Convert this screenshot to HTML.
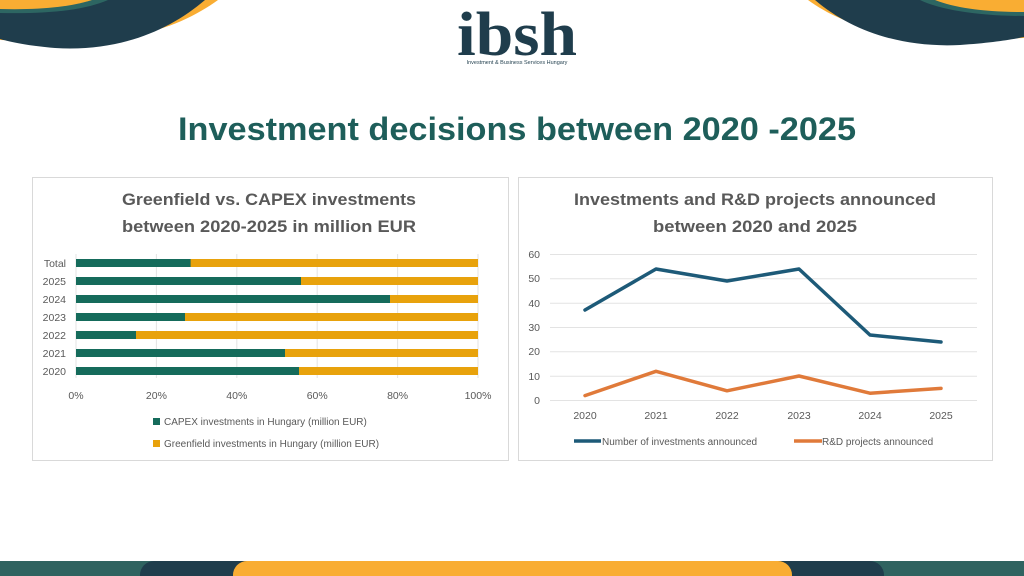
<!DOCTYPE html>
<html><head><meta charset="utf-8"><style>
html,body{margin:0;padding:0;background:#fff;}
svg{display:block;font-family:"Liberation Sans",sans-serif;}
</style></head><body>
<svg width="1024" height="576" viewBox="0 0 1024 576" xmlns="http://www.w3.org/2000/svg">
<path d="M0,0 L218,0 C190,20 150,40 70,42 L0,40 Z" fill="#f9ad33"/>
<path d="M0,0 L205,0 C170,30 120,52 55,48 C30,46 10,42 0,39 Z" fill="#1f3d4c"/>
<path d="M0,0 L108,0 C85,10 50,14 0,13 Z" fill="#2d6662"/>
<path d="M0,0 L92,0 C70,7 40,10 0,9 Z" fill="#f9ad33"/>
<path d="M1024,0 L808,0 C835,20 880,38 950,40 L1024,38 Z" fill="#f9ad33"/>
<path d="M1024,0 L815,0 C850,30 900,48 960,45 C990,43 1010,40 1024,37 Z" fill="#1f3d4c"/>
<path d="M1024,0 L920,0 C940,10 980,16 1024,16 Z" fill="#2d6662"/>
<path d="M1024,0 L935,0 C955,8 985,12 1024,12 Z" fill="#f9ad33"/>
<text x="457" y="55" textLength="120" lengthAdjust="spacingAndGlyphs" font-family="Liberation Serif,serif" font-weight="bold" font-size="62" fill="#1f3d4c">ibsh</text>
<text x="517" y="64" text-anchor="middle" font-size="5.5" fill="#1f3d4c">Investment &amp; Business Services Hungary</text>
<text x="178" y="140" textLength="678" lengthAdjust="spacingAndGlyphs" font-size="32" font-weight="bold" fill="#1e5e5a">Investment decisions between 2020 -2025</text>
<rect x="32.5" y="177.5" width="476" height="283" fill="#fff" stroke="#d9d9d9"/>
<rect x="518.5" y="177.5" width="474" height="283" fill="#fff" stroke="#d9d9d9"/>
<g font-size="17" font-weight="bold" fill="#595959">
<text x="122" y="205" textLength="294" lengthAdjust="spacingAndGlyphs">Greenfield vs. CAPEX investments</text>
<text x="122" y="232" textLength="294" lengthAdjust="spacingAndGlyphs">between 2020-2025 in million EUR</text>
<text x="574" y="205" textLength="362" lengthAdjust="spacingAndGlyphs">Investments and R&amp;D projects announced</text>
<text x="653" y="232" textLength="204" lengthAdjust="spacingAndGlyphs">between 2020 and 2025</text>
</g>
<g stroke="#e3e3e3">
<line x1="76" y1="254" x2="76" y2="378"/><line x1="156.4" y1="254" x2="156.4" y2="378"/><line x1="236.8" y1="254" x2="236.8" y2="378"/><line x1="317.2" y1="254" x2="317.2" y2="378"/><line x1="397.6" y1="254" x2="397.6" y2="378"/><line x1="478" y1="254" x2="478" y2="378"/>
</g>
<g>
<rect x="76" y="259" width="402" height="8" fill="#e8a20c"/><rect x="76" y="259" width="114.6" height="8" fill="#156b5b"/>
<rect x="76" y="277" width="402" height="8" fill="#e8a20c"/><rect x="76" y="277" width="225" height="8" fill="#156b5b"/>
<rect x="76" y="295" width="402" height="8" fill="#e8a20c"/><rect x="76" y="295" width="314" height="8" fill="#156b5b"/>
<rect x="76" y="313" width="402" height="8" fill="#e8a20c"/><rect x="76" y="313" width="109" height="8" fill="#156b5b"/>
<rect x="76" y="331" width="402" height="8" fill="#e8a20c"/><rect x="76" y="331" width="60" height="8" fill="#156b5b"/>
<rect x="76" y="349" width="402" height="8" fill="#e8a20c"/><rect x="76" y="349" width="209" height="8" fill="#156b5b"/>
<rect x="76" y="367" width="402" height="8" fill="#e8a20c"/><rect x="76" y="367" width="223" height="8" fill="#156b5b"/>
</g>
<g font-size="10.5" fill="#595959" text-anchor="end">
<text x="66" y="267">Total</text><text x="66" y="285">2025</text><text x="66" y="303">2024</text><text x="66" y="321">2023</text><text x="66" y="339">2022</text><text x="66" y="357">2021</text><text x="66" y="375">2020</text>
</g>
<g font-size="10.5" fill="#595959" text-anchor="middle">
<text x="76" y="399">0%</text><text x="156.4" y="399">20%</text><text x="236.8" y="399">40%</text><text x="317.2" y="399">60%</text><text x="397.6" y="399">80%</text><text x="478" y="399">100%</text>
</g>
<rect x="153" y="418" width="7" height="7" fill="#156b5b"/>
<text x="164" y="425" font-size="10" fill="#595959">CAPEX investments in Hungary (million EUR)</text>
<rect x="153" y="440" width="7" height="7" fill="#e8a20c"/>
<text x="164" y="447" font-size="10" fill="#595959">Greenfield investments in Hungary (million EUR)</text>
<g stroke="#e3e3e3">
<line x1="550" y1="254.5" x2="977" y2="254.5"/><line x1="550" y1="278.8" x2="977" y2="278.8"/><line x1="550" y1="303.2" x2="977" y2="303.2"/><line x1="550" y1="327.5" x2="977" y2="327.5"/><line x1="550" y1="351.8" x2="977" y2="351.8"/><line x1="550" y1="376.2" x2="977" y2="376.2"/><line x1="550" y1="400.5" x2="977" y2="400.5"/>
</g>
<g font-size="10.5" fill="#595959" text-anchor="end">
<text x="540" y="258">60</text><text x="540" y="282">50</text><text x="540" y="307">40</text><text x="540" y="331">30</text><text x="540" y="355">20</text><text x="540" y="380">10</text><text x="540" y="404">0</text>
</g>
<g font-size="10.5" fill="#595959" text-anchor="middle">
<text x="585" y="419">2020</text><text x="656" y="419">2021</text><text x="727" y="419">2022</text><text x="799" y="419">2023</text><text x="870" y="419">2024</text><text x="941" y="419">2025</text>
</g>
<polyline points="585,310 656,269 727,281 799,269 870,335 941,342" fill="none" stroke="#1d5a78" stroke-width="3.5" stroke-linejoin="round" stroke-linecap="round"/>
<polyline points="585,395.6 656,371.3 727,390.8 799,376 870,393.2 941,388.4" fill="none" stroke="#e07a3a" stroke-width="3.5" stroke-linejoin="round" stroke-linecap="round"/>
<line x1="574" y1="441" x2="601" y2="441" stroke="#1d5a78" stroke-width="3.5"/>
<text x="602" y="445" font-size="10" fill="#595959">Number of investments announced</text>
<line x1="794" y1="441" x2="822" y2="441" stroke="#e07a3a" stroke-width="3.5"/>
<text x="822" y="445" font-size="10" fill="#595959">R&amp;D projects announced</text>
<rect x="0" y="561" width="1024" height="15" fill="#2f6360"/>
<rect x="140" y="561" width="744" height="30" rx="14" fill="#1f3d4c"/>
<rect x="233" y="561" width="559" height="30" rx="14" fill="#f9ad33"/>
</svg>
</body></html>
